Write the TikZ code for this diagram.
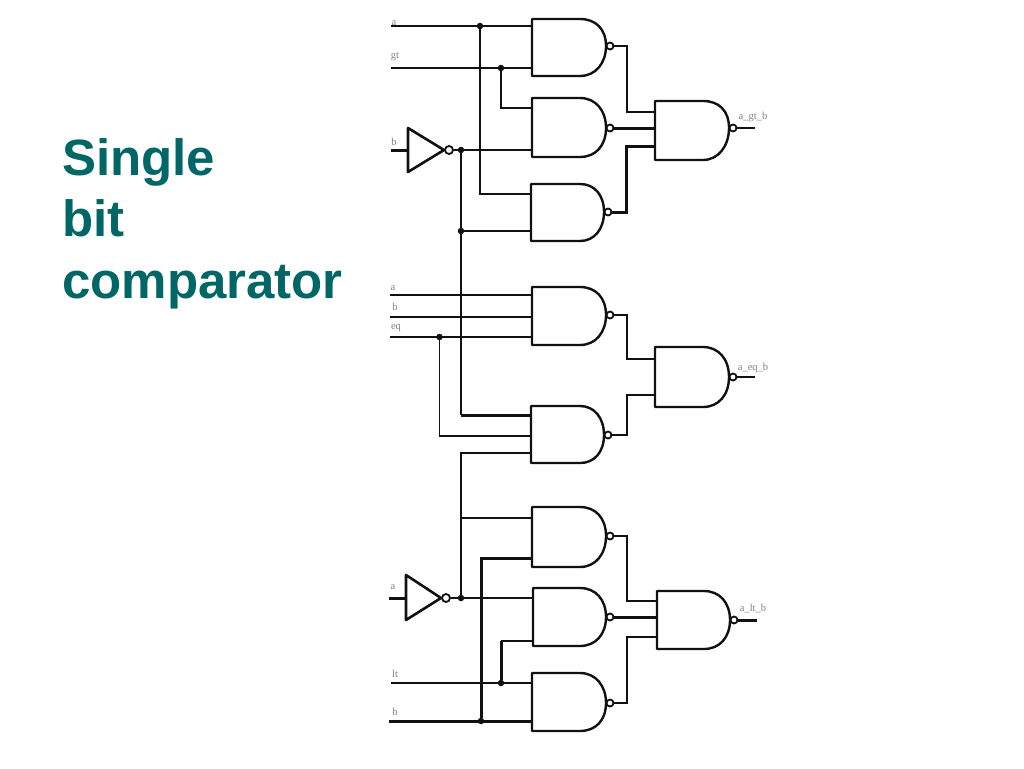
\documentclass[tikz,border=0pt]{standalone}
\usepackage{fontspec}
\setmainfont{Liberation Sans}
\newfontfamily\tinyserif{Liberation Serif}
\definecolor{teal1}{HTML}{006666}
\definecolor{ink}{HTML}{111111}
\definecolor{lab}{HTML}{808080}
\tikzset{
  wire/.style={draw=ink,line width=1.1pt},
  thickwire/.style={draw=ink,line width=3pt},
  gateline/.style={draw=ink,line width=2.4pt,line join=round},
  bubble/.style={circle,draw=ink,fill=white,line width=1.8pt,inner sep=0pt,minimum size=7pt},
  junction/.style={circle,fill=ink,inner sep=0pt,minimum size=6.5pt},
  siglabel/.style={text=lab,font=\tinyserif\fontsize{10.5}{10.5}\selectfont,inner sep=0pt},
  title/.style={text=teal1,font=\bfseries\fontsize{51}{61.5}\selectfont,align=left,inner sep=0pt,anchor=north west}
}
% name, left, top, bottom, nose x, arc start x, bubble y
\newcommand{\nandgate}[7]{%
  \draw[gateline] (#2,#3) -- (#6,#3)
    .. controls ({#6+0.6*(#5-#6)},#3) and (#5,{#7-0.3*(#4-#3)}) .. (#5,#7)
    .. controls (#5,{#7+0.3*(#4-#3)}) and ({#6+0.6*(#5-#6)},#4) .. (#6,#4)
    -- (#2,#4) -- cycle;
  \node[bubble] (#1) at ({#5+4},#7) {};
}
\newcommand{\inverter}[6]{%
  \draw[gateline,line width=2.6pt] (#2,#3) -- (#5,#6) -- (#2,#4) -- cycle;
  \node[bubble,minimum size=8pt] (#1) at ({#5+5},#6) {};
}
\begin{document}
\begin{tikzpicture}[x=1pt,y=-1pt]
\useasboundingbox (0,0) rectangle (1024,768);
\fill[white] (0,0) rectangle (1024,768);
\node[title] (ttl) at (62,138) {Single\\bit\\comparator};

% gates
\nandgate{g1}{532}{19}{76}{606}{580}{46}
\nandgate{g2}{532}{98}{157}{606}{580}{128}
\nandgate{g3}{531}{184}{241}{604}{580}{212}
\nandgate{g4}{655}{101}{160}{729}{703}{128}
\nandgate{g5}{532}{287}{345}{606}{580}{315}
\nandgate{g6}{531}{406}{463}{604}{580}{435}
\nandgate{g7}{655}{347}{407}{729}{703}{377}
\nandgate{g8}{532}{507}{567}{606}{580}{536}
\nandgate{g9}{533}{588}{646}{606}{580}{617}
\nandgate{g10}{532}{673}{731}{606}{580}{703}
\nandgate{g11}{657}{591}{649}{730}{704}{620}
\inverter{i1}{408}{128}{172}{444}{150}
\inverter{i2}{406}{575}{620}{441}{598}

% junctions
\node[junction] (j1) at (480,26) {};
\node[junction] (j2) at (501,68) {};
\node[junction] (j3) at (461,150) {};
\node[junction] (j4) at (461,231) {};
\node[junction] (j5) at (439.5,337) {};
\node[junction] (j6) at (461,598) {};
\node[junction] (j7) at (501,683) {};
\node[junction] (j8) at (481,721) {};

% free ends and pins
\coordinate (ina1) at (391,26);   \coordinate (g1a) at (532,26);
\coordinate (ingt) at (391,68);   \coordinate (g1b) at (532,68);
\coordinate (g2a) at (532,108);   \coordinate (g2b) at (532,150);
\coordinate (inb1) at (391,150);  \coordinate (i1in) at (408,150);
\coordinate (g3a) at (531,194);   \coordinate (g3b) at (531,231);
\coordinate (g4a) at (655,112);   \coordinate (g4b) at (655,128);  \coordinate (g4c) at (655,146);
\coordinate (outgt) at (755,128);
\coordinate (ina2) at (390,295);  \coordinate (g5a) at (532,295);
\coordinate (inb2) at (390,317);  \coordinate (g5b) at (532,317);
\coordinate (ineq) at (390,337);  \coordinate (g5c) at (532,337);
\coordinate (g6a) at (531,415);   \coordinate (g6b) at (531,436);  \coordinate (g6c) at (531,453);
\coordinate (g7a) at (655,359);   \coordinate (g7b) at (655,395);
\coordinate (outeq) at (755,377);
\coordinate (g8a) at (532,518);   \coordinate (g8b) at (532,558);
\coordinate (ina3) at (389,598);  \coordinate (i2in) at (406,598);
\coordinate (g9a) at (533,598);   \coordinate (g9b) at (533,641);
\coordinate (inlt) at (391,683);  \coordinate (g10a) at (532,683);
\coordinate (inb3) at (389,721);  \coordinate (g10b) at (532,721);
\coordinate (g11a) at (657,601);  \coordinate (g11b) at (657,617); \coordinate (g11c) at (657,637);
\coordinate (outlt) at (757,620);
\coordinate (vtop) at (461,415);  \coordinate (vbot) at (461,453);
\coordinate (t8) at (461,518);
\coordinate (k7) at (501,641);

% top group
\draw[wire] (ina1) -- (g1a);
\draw[wire] (ingt) -- (g1b);
\draw[wire] (j2) |- (g2a);
\draw[wire] (j1) |- (g3a);
\draw[thickwire] (inb1) -- (i1in);
\draw[wire] (i1) -- (j3);
\draw[wire] (j3) -- (g2b);
\draw[wire] (j3) -- (j4);
\draw[wire] (j4) -- (vtop);
\draw[wire] (j4) -- (g3b);
\draw[wire] (g1) -| (627,100) |- (g4a);
\draw[thickwire] (g2) -- (g4b);
\draw[thickwire] (g3) -| (626,180) |- (g4c);
\draw[wire] (g4) -- (outgt);

% middle group
\draw[wire] (ina2) -- (g5a);
\draw[wire] (inb2) -- (g5b);
\draw[wire] (ineq) -- (g5c);
\draw[thickwire] (vtop) -- (g6a);
\draw[wire] (j5) |- (g6b);
\draw[wire] (j6) -- (vbot) -- (g6c);
\draw[wire] (g5) -| (627,345) |- (g7a);
\draw[wire,line width=2.4pt] (627,359) -- (g7a);
\draw[wire] (g6) -| (627,410) |- (g7b);
\draw[wire,line width=2.4pt] (627,395) -- (g7b);
\draw[wire] (g7) -- (outeq);

% bottom group
\draw[wire] (t8) -- (g8a);
\draw[thickwire] (j8) |- (g8b);
\draw[thickwire] (ina3) -- (i2in);
\draw[wire] (i2) -- (j6);
\draw[wire] (j6) -- (g9a);
\draw[thickwire] (j7) -- (k7);
\draw[wire] (k7) -- (g9b);
\draw[wire] (inlt) -- (g10a);
\draw[thickwire] (inb3) -- (g10b);
\draw[wire] (g8) -| (627,570) |- (g11a);
\draw[thickwire] (g9) -- (g11b);
\draw[wire] (g10) -| (627,670) |- (g11c);
\draw[thickwire] (g11) -- (outlt);

% labels
\node[siglabel] (l1) at (394,23) {a};
\node[siglabel] (l2) at (395,57) {gt};
\node[siglabel] (l3) at (394,142) {b};
\node[siglabel] (l4) at (393,288) {a};
\node[siglabel] (l5) at (395,307) {b};
\node[siglabel] (l6) at (396,328) {eq};
\node[siglabel] (l7) at (393,587) {a};
\node[siglabel] (l8) at (395,674) {lt};
\node[siglabel] (l9) at (395,712) {b};
\node[siglabel] (l10) at (753,117) {a\_gt\_b};
\node[siglabel] (l11) at (753,368) {a\_eq\_b};
\node[siglabel] (l12) at (753,609) {a\_lt\_b};
\end{tikzpicture}
\end{document}
